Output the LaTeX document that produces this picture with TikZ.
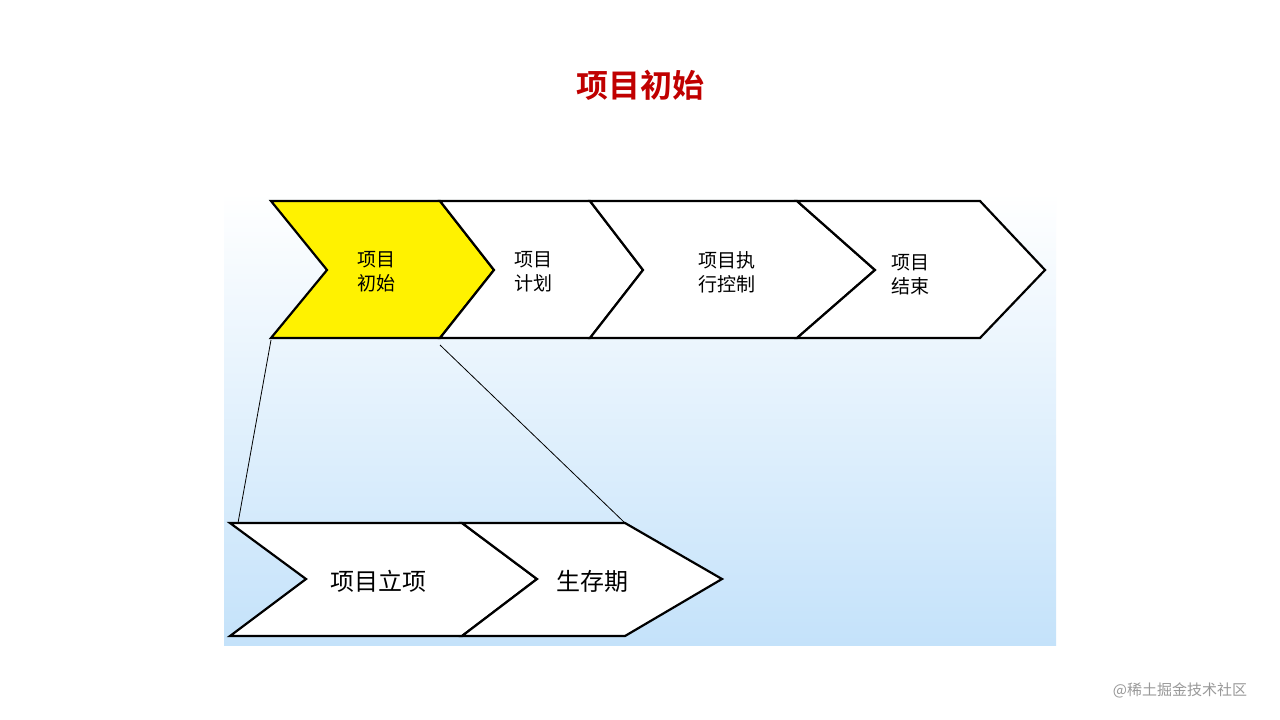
\documentclass[tikz,border=0pt]{standalone}
\usepackage{fontspec}
\newfontfamily\cjk{Noto Sans CJK SC}
\newfontfamily\cjkb{Noto Sans CJK SC Bold}
\definecolor{bgblue}{HTML}{C4E2FA}
\definecolor{titlered}{HTML}{C00000}
\begin{document}
\begin{tikzpicture}[x=1pt,y=-1pt,
  chev/.style={draw=black,line width=2.2pt,line join=miter,fill=white},
  lbl/.style={font=\cjk\fontsize{19}{24}\selectfont,align=center},
  lblb/.style={font=\cjk\fontsize{24}{28}\selectfont}]
\useasboundingbox (0,0) rectangle (1280,720);
\fill[white] (0,0) rectangle (1280,720);
\shade[top color=white,bottom color=bgblue] (224,193) rectangle (1056,645);
\node[font=\cjkb\fontsize{32}{36}\selectfont,text=titlered] (title) at (640,85) {项目初始};
% top chevrons
\draw[chev,fill=yellow] (271,201)--(440,201)--(494,270)--(440,338)--(271,338)--(327,270)--cycle;
\draw[chev] (440,201)--(590,201)--(643,270)--(590,338)--(440,338)--(494,270)--cycle;
\draw[chev] (590,201)--(797,201)--(875,270)--(797,338)--(590,338)--(643,270)--cycle;
\draw[chev] (797,201)--(980,201)--(1045,270)--(980,338)--(797,338)--(875,270)--cycle;
\node[lbl] (t1) at (376,272) {项目\\初始};
\node[lbl] (t2) at (533,272) {项目\\计划};
\node[lbl] (t3) at (727,272) {项目执\\行控制};
\node[lbl] (t4) at (910,275) {项目\\结束};
% bottom chevrons
\draw[chev] (230,523)--(462,523)--(537,579)--(462,636)--(230,636)--(306,579)--cycle;
\draw[chev] (462,523)--(625,523)--(722,579)--(625,636)--(462,636)--(537,579)--cycle;
\node[lblb] (b1) at (378,581) {项目立项};
\node[lblb] (b2) at (592,581) {生存期};
% zoom lines
\coordinate (a1) at (271,340);
\coordinate (a2) at (238,523);
\coordinate (c1) at (440,345);
\coordinate (c2) at (625,523);
\draw[line width=0.8pt] (a1)--(a2);
\draw[line width=0.8pt] (c1)--(c2);
\node[font=\cjk\fontsize{15}{18}\selectfont,text=gray!80] (wm) at (1180,690) {@稀土掘金技术社区};
\end{tikzpicture}
\end{document}
